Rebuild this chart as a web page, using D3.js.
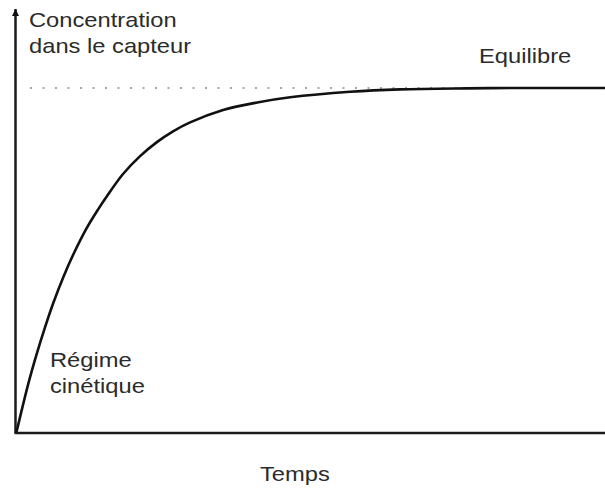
<!DOCTYPE html>
<html>
<head>
<meta charset="utf-8">
<script src="https://cdn.jsdelivr.net/npm/d3@7"></script>
<style>
  body { margin: 0; background: #fff; }
  svg { display: block; }
  text { font-family: "Liberation Sans", Arial, sans-serif; fill: #2b2b2b; }
</style>
</head>
<body>
<script>
// curve: time (arbitrary units), concentration / equilibrium
const temps = [0, 2.0, 3.4, 4.8, 6.25, 7.95, 9.65, 11.9, 13.9, 15.3, 18.1, 21.0, 23.8,
               26.6, 29.5, 35.1, 40.9, 46.5, 56.7, 65.2, 76.6, 85.6, 100];
const concentration = [0, 0.140, 0.225, 0.302, 0.375, 0.450, 0.516, 0.592, 0.648, 0.684,
                       0.750, 0.802, 0.842, 0.874, 0.900, 0.936, 0.958, 0.973, 0.989,
                       0.996, 0.999, 1.0, 1.0];
const equilibre = 1.0;
const yLabel = ['Concentration', 'dans le capteur'];
const xLabel = 'Temps';
const labelEq = 'Equilibre';
const labelKin = ['Régime', 'cinétique'];

const W = 605, H = 488;
const origin = {x: 16.5, y: 432};

const svg = d3.select('body').append('svg')
    .attr('width', W)
    .attr('height', H);

const x = d3.scaleLinear().domain([0, 100]).range([origin.x, 605]);
const y = d3.scaleLinear().domain([0, 1]).range([origin.y, 88]);

// arrow heads
const defs = svg.append('defs');
defs.append('marker')
    .attr('id', 'arrow')
    .attr('viewBox', '0 0 10 10')
    .attr('refX', 10).attr('refY', 5)
    .attr('markerUnits', 'userSpaceOnUse')
    .attr('markerWidth', 13).attr('markerHeight', 7)
    .attr('orient', 'auto')
    .append('path')
    .attr('d', 'M0,0 L10,5 L0,10 Z')
    .attr('fill', '#111');

// dotted equilibrium line
svg.append('line')
    .attr('x1', 30).attr('x2', x(88))
    .attr('y1', y(equilibre)).attr('y2', y(equilibre))
    .attr('stroke', '#8a8a8a')
    .attr('stroke-width', 1.6)
    .attr('stroke-dasharray', '2,10.5');

// axes (no ticks, just the line + arrow)
svg.append('line')
    .attr('x1', origin.x - 1).attr('y1', origin.y + 1)
    .attr('x2', origin.x - 1).attr('y2', 9)
    .attr('stroke', '#1a1a1a').attr('stroke-width', 2.5)
    .attr('marker-end', 'url(#arrow)');

svg.append('line')
    .attr('x1', origin.x - 2).attr('y1', origin.y + 1)
    .attr('x2', x(100) + 10).attr('y2', origin.y + 1)
    .attr('stroke', '#1a1a1a').attr('stroke-width', 2.5)
    .attr('marker-end', 'url(#arrow)');

// the curve
const pts = temps.map((t, i) => [t, concentration[i]]);
const line = d3.line()
    .x(d => x(d[0]))
    .y(d => y(d[1]))
    .curve(d3.curveCatmullRom.alpha(0.5));

svg.append('path')
    .datum(pts)
    .attr('d', line)
    .attr('fill', 'none')
    .attr('stroke', '#111')
    .attr('stroke-width', 2.6);

// labels (source text is a bit stretched horizontally)
function label(txt, tx, ty) {
    svg.append('text')
        .attr('transform', `translate(${tx},${ty}) scale(1.13,1)`)
        .attr('font-size', 21)
        .text(txt);
}
label(yLabel[0], 29, 27);
label(yLabel[1], 29, 53);
label(labelEq, 479, 63);
label(labelKin[0], 50, 367);
label(labelKin[1], 50, 393);
label(xLabel, 260, 481);
</script>
</body>
</html>
